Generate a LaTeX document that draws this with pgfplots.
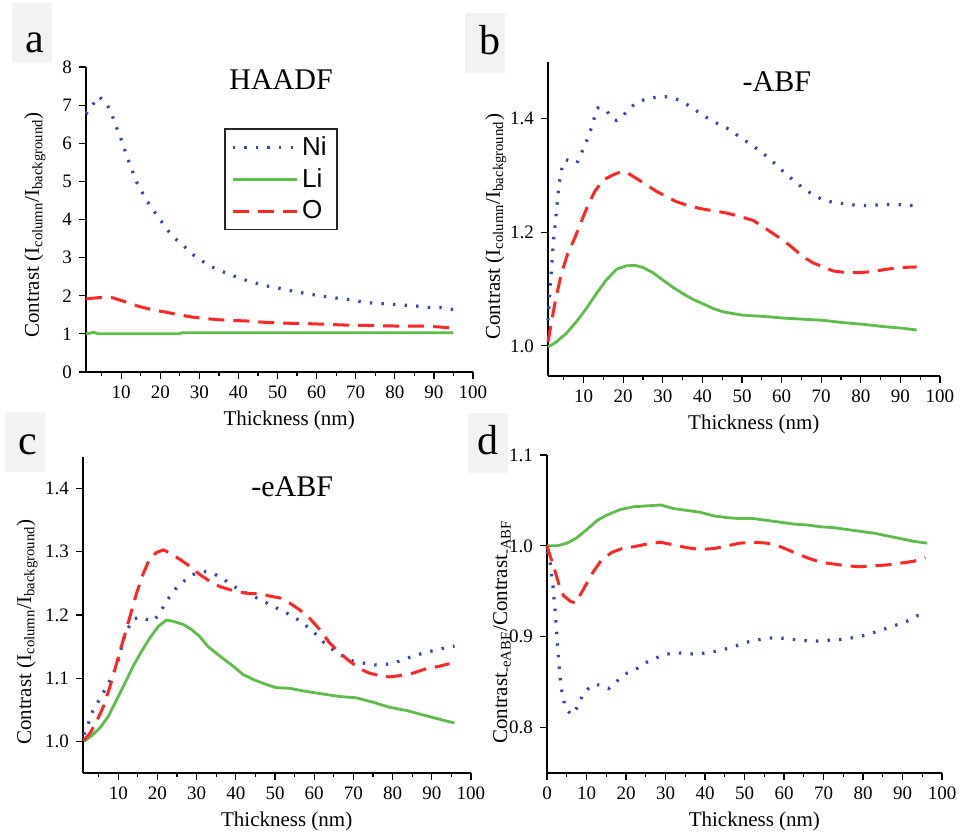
\documentclass[border=0pt]{standalone}
\usepackage{pgfplots}
\pgfplotsset{compat=1.18}
\usepackage{fontspec}
\setmainfont{Liberation Serif}
\newfontfamily\legendfont{Liberation Sans}

\definecolor{niblue}{HTML}{2F4AAA}
\definecolor{ligreen}{HTML}{5CBD48}
\definecolor{ored}{HTML}{FF2626}
\definecolor{boxgray}{HTML}{F2F2F2}

\tikzset{ttl/.style={font=\fontsize{15}{17}\selectfont, anchor=center}}

\pgfplotsset{
  panel/.style={
    scale only axis,
    axis lines=left,
    axis line style={-, line width=0.7pt},
    enlargelimits=false,
    tick align=outside,
    major tick length=3.5pt,
    minor tick length=2pt,
    tick style={black, line width=0.6pt},
    xtick={10,20,...,100},
    minor xtick={5,15,...,95},
    ticklabel style={font=\fontsize{9.5}{10}\selectfont},
    /pgf/number format/assume math mode=true,
    xlabel={Thickness (nm)},
    xlabel style={font=\fontsize{10.5}{12}\selectfont, anchor=center, at={(axis description cs:0.525,0)}, yshift=-24pt},
    ylabel style={font=\fontsize{10.5}{12}\selectfont, anchor=center},
    clip=false,
  },
  ni/.style={niblue, line width=1.6pt, dash pattern=on 1.2pt off 4.6pt},
  li/.style={ligreen, line width=1.4pt},
  ox/.style={ored, line width=1.5pt, dash pattern=on 8pt off 4.5pt},
  dec/.style={yticklabel style={/pgf/number format/.cd, fixed, fixed zerofill, precision=1}},
}

\begin{document}
\begin{tikzpicture}
\useasboundingbox (0,0) rectangle (481.5pt,416.5pt);

% panel letters
\foreach \cx/\cy/\bx/\by/\lt in {16/400/17.5/390/a, 242.5/395/245/389/b, 12.5/195.5/14/189/c, 244/195/244/189/d}{
  \fill[boxgray] (\cx pt-10pt,\cy pt-15pt) rectangle (\cx pt+10pt,\cy pt+15pt);
  \node[anchor=base, inner sep=0pt, font=\fontsize{21}{22}\selectfont] at (\bx pt,\by pt) {\lt};
}

% (a) HAADF
\begin{axis}[panel, at={(43pt,230.5pt)}, anchor=south west,
  width=193.5pt, height=152.5pt,
  xmin=1, xmax=100, ymin=0, ymax=8, ytick={0,1,...,8},
  ylabel={Contrast (I\textsubscript{column}/I\textsubscript{background})},
  ylabel style={at={(axis description cs:-0.132,0.482)}},
  legend style={at={(axis description cs:0.357,0.80)}, anchor=north west,
    draw=black!85, line width=0.8pt, font=\legendfont\fontsize{13}{14}\selectfont,
    inner xsep=3pt, inner ysep=2pt, row sep=1pt},
  legend cell align=left,
  legend image code/.code={\draw[#1] (0pt,0pt) -- (32pt,0pt);},
]
\addplot[ni] coordinates {(1.0,6.77) (4.3,7.23) (6.4,7.02) (7.7,6.73) (8.7,6.44) (9.8,6.16) (10.7,5.90) (11.7,5.59) (12.7,5.33) (13.7,5.03) (15.1,4.76) (16.5,4.50) (18.1,4.26) (19.8,4.02) (21.8,3.73) (23.5,3.52) (25.7,3.34) (27.8,3.12) (30.4,2.93) (32.9,2.77) (35.5,2.65) (38.5,2.53) (41.5,2.42) (44.5,2.33) (47.0,2.26) (50.0,2.21) (53.0,2.14) (56.0,2.08) (59.0,2.03) (62.0,1.98) (65.0,1.94) (68.0,1.90) (71.0,1.85) (74.0,1.81) (77.0,1.79) (80.0,1.77) (83.0,1.75) (85.5,1.73) (88.5,1.69) (91.5,1.69) (94.9,1.64)};
\addlegendentry{Ni}
\addplot[li] coordinates {(1.0,1.0) (2.0,1.02) (3.0,1.04) (4.0,1.005) (25.0,1.005) (25.5,1.03) (95.0,1.03)};
\addlegendentry{Li}
\addplot[ox] coordinates {(1.0,1.92) (4.3,1.95) (7.7,1.95) (11.1,1.84) (14.5,1.72) (18.0,1.63) (21.4,1.57) (24.8,1.50) (28.2,1.44) (31.6,1.40) (35.1,1.37) (38.5,1.35) (41.9,1.34) (47.0,1.30) (52.2,1.28) (57.3,1.27) (62.4,1.25) (67.6,1.23) (72.7,1.22) (77.8,1.21) (83.0,1.20) (88.1,1.20) (91.5,1.18) (94.9,1.15)};
\addlegendentry{O}
\node[ttl] at (axis description cs:0.504,0.957) {HAADF};
\end{axis}

% (b) -ABF
\begin{axis}[panel, dec, at={(274pt,228.5pt)}, anchor=south west,
  width=196pt, height=157pt,
  xmin=1, xmax=100, ymin=0.947, ymax=1.5, ytick={1.0,1.2,1.4},
  ylabel={Contrast (I\textsubscript{column}/I\textsubscript{background})},
  ylabel style={at={(axis description cs:-0.133,0.475)}},
]
\addplot[ni] coordinates {(1.0,1.045) (1.4,1.086) (1.8,1.128) (2.4,1.186) (3.1,1.234) (3.7,1.281) (4.4,1.310) (5.5,1.328) (6.9,1.325) (8.3,1.322) (9.4,1.339) (10.7,1.360) (11.9,1.383) (12.8,1.404) (13.6,1.419) (15.7,1.416) (17.0,1.401) (18.3,1.397) (19.5,1.401) (21.2,1.416) (23.3,1.428) (25.8,1.435) (28.4,1.438) (30.5,1.439) (33.0,1.436) (35.5,1.428) (38.1,1.416) (40.6,1.404) (43.1,1.394) (46.1,1.384) (48.6,1.372) (51.1,1.360) (53.6,1.348) (56.2,1.334) (58.3,1.321) (60.4,1.307) (62.9,1.292) (65.4,1.278) (68.0,1.266) (70.5,1.257) (73.4,1.252) (76.4,1.250) (79.3,1.247) (82.3,1.247) (85.2,1.249) (88.2,1.249) (91.5,1.248) (94.5,1.246)};
\addplot[li] coordinates {(1.0,0.998) (3.1,1.007) (5.6,1.022) (8.1,1.042) (10.7,1.066) (13.2,1.092) (15.7,1.116) (18.3,1.135) (20.8,1.141) (22.9,1.142) (25.0,1.138) (27.5,1.129) (30.0,1.116) (32.6,1.103) (35.1,1.092) (37.6,1.082) (40.2,1.074) (42.7,1.066) (45.2,1.060) (47.7,1.057) (50.3,1.054) (55.3,1.052) (60.4,1.049) (65.4,1.047) (70.5,1.045) (75.5,1.041) (80.6,1.038) (85.7,1.034) (90.7,1.031) (94.1,1.028)};
\addplot[ox] coordinates {(1.0,1.007) (1.8,1.039) (2.9,1.081) (4.4,1.128) (6.0,1.163) (7.7,1.189) (9.4,1.219) (11.1,1.248) (12.8,1.272) (14.9,1.292) (17.4,1.301) (19.5,1.307) (21.2,1.304) (23.3,1.295) (25.8,1.284) (28.4,1.272) (30.9,1.263) (33.4,1.254) (36.0,1.248) (39.3,1.242) (42.7,1.238) (46.1,1.234) (49.4,1.228) (52.8,1.221) (55.3,1.210) (57.8,1.198) (60.4,1.186) (62.9,1.172) (65.4,1.157) (68.0,1.146) (70.5,1.139) (73.0,1.132) (76.4,1.129) (79.8,1.129) (83.1,1.131) (86.5,1.135) (89.9,1.138) (94.1,1.139)};
\node[ttl] at (axis description cs:0.584,0.936) {-ABF};
\end{axis}

% (c) -eABF
\begin{axis}[panel, dec, at={(41.5pt,30pt)}, anchor=south west,
  width=194pt, height=158pt,
  xmin=1, xmax=100, ymin=0.95, ymax=1.45, ytick={1.0,1.1,1.2,1.3,1.4},
  ylabel={Contrast (I\textsubscript{column}/I\textsubscript{background})},
  ylabel style={at={(axis description cs:-0.144,0.446)}},
]
\addplot[ni] coordinates {(1.25,1.011) (2.4,1.029) (3.6,1.050) (4.9,1.063) (6.2,1.077) (7.5,1.092) (8.7,1.106) (10.0,1.129) (11.3,1.161) (12.5,1.179) (13.8,1.193) (15.5,1.197) (17.2,1.193) (18.9,1.190) (20.6,1.203) (22.3,1.222) (24.4,1.240) (26.6,1.253) (29.1,1.264) (31.7,1.269) (34.2,1.266) (36.8,1.257) (39.3,1.246) (41.8,1.237) (44.4,1.230) (46.9,1.222) (49.5,1.214) (52.0,1.206) (54.6,1.198) (57.1,1.187) (59.7,1.174) (62.2,1.158) (64.8,1.145) (67.3,1.135) (69.9,1.127) (72.4,1.124) (75.4,1.121) (78.4,1.122) (81.8,1.127) (85.2,1.135) (88.6,1.141) (92.0,1.146) (95.8,1.151)};
\addplot[li] coordinates {(1.25,1.000) (3.2,1.009) (5.3,1.021) (7.5,1.040) (9.6,1.066) (11.7,1.092) (13.8,1.119) (15.9,1.142) (18.1,1.164) (20.2,1.182) (22.3,1.192) (24.0,1.190) (26.6,1.185) (28.7,1.177) (30.8,1.166) (32.9,1.150) (35.9,1.135) (39.3,1.119) (41.8,1.106) (44.4,1.098) (47.8,1.090) (50.3,1.085) (53.7,1.084) (58.0,1.079) (62.2,1.075) (66.5,1.071) (70.7,1.069) (75.0,1.062) (79.2,1.054) (83.5,1.049) (87.7,1.042) (92.0,1.035) (95.8,1.029)};
\addplot[ox] coordinates {(1.25,1.002) (2.8,1.013) (4.5,1.032) (6.2,1.055) (7.9,1.087) (9.6,1.124) (11.3,1.161) (13.0,1.198) (14.7,1.235) (16.4,1.266) (18.1,1.290) (19.8,1.299) (21.5,1.303) (23.2,1.298) (25.7,1.288) (28.3,1.277) (30.8,1.264) (33.4,1.253) (35.9,1.245) (38.5,1.240) (41.0,1.236) (43.5,1.234) (46.1,1.234) (48.6,1.230) (51.2,1.227) (53.7,1.219) (56.3,1.208) (58.8,1.195) (61.4,1.177) (63.9,1.156) (66.5,1.140) (69.0,1.127) (71.6,1.115) (74.1,1.108) (76.7,1.104) (79.2,1.102) (81.8,1.104) (85.2,1.108) (88.6,1.115) (92.0,1.119) (94.5,1.123)};
\node[ttl] at (axis description cs:0.539,0.905) {-eABF};
\end{axis}

% (d) ratio
\begin{axis}[panel, dec, at={(273.5pt,30pt)}, anchor=south west,
  width=197.5pt, height=159pt,
  xmin=0, xmax=100, ymin=0.75, ymax=1.1, ytick={0.8,0.9,1.0,1.1},
  xtick={0,10,...,100},
  ylabel={Contrast\textsubscript{-eABF}/Contrast\textsubscript{-ABF}},
  ylabel style={at={(axis description cs:-0.114,0.443)}},
]
\addplot[ni] coordinates {(0,0.994) (0.8,0.982) (1.5,0.956) (2.1,0.926) (2.7,0.889) (3.2,0.860) (3.8,0.838) (4.6,0.823) (6.1,0.814) (7.6,0.822) (9.3,0.838) (11.4,0.847) (13.5,0.847) (15.6,0.843) (17.7,0.851) (20.3,0.860) (22.8,0.865) (25.3,0.872) (27.8,0.877) (30.4,0.881) (33.8,0.882) (37.1,0.881) (40.5,0.882) (43.9,0.885) (47.3,0.889) (50.6,0.894) (54.0,0.897) (57.4,0.899) (60.8,0.898) (64.1,0.896) (67.5,0.895) (70.9,0.896) (74.3,0.897) (77.6,0.899) (81.0,0.902) (84.4,0.907) (87.8,0.912) (91.1,0.917) (93.7,0.923) (96.2,0.924)};
\addplot[li] coordinates {(0,1.000) (2.5,1.000) (5.1,1.003) (7.6,1.009) (10.1,1.018) (12.7,1.028) (15.2,1.034) (18.6,1.040) (21.9,1.043) (25.3,1.044) (28.7,1.045) (32.1,1.041) (35.4,1.039) (38.8,1.037) (42.2,1.033) (45.6,1.031) (48.9,1.030) (52.3,1.030) (55.7,1.028) (59.1,1.026) (62.4,1.024) (65.8,1.023) (69.2,1.021) (72.6,1.020) (75.9,1.018) (79.3,1.016) (82.7,1.014) (86.1,1.011) (89.5,1.008) (92.8,1.005) (96.2,1.003)};
\addplot[ox] coordinates {(0,1.000) (0.8,0.989) (1.9,0.974) (3.0,0.958) (4.2,0.945) (5.9,0.939) (7.2,0.937) (8.4,0.946) (10.1,0.959) (11.8,0.972) (13.9,0.985) (16.5,0.993) (19.0,0.997) (21.9,0.999) (25.3,1.002) (28.7,1.004) (32.1,1.001) (35.4,0.998) (38.8,0.996) (42.2,0.997) (45.6,1.000) (48.9,1.003) (52.3,1.004) (55.7,1.003) (59.1,0.999) (62.4,0.993) (65.8,0.987) (69.2,0.982) (72.6,0.980) (75.9,0.978) (79.3,0.977) (82.7,0.978) (86.1,0.979) (89.5,0.981) (92.8,0.983) (95.8,0.987)};
\end{axis}
\end{tikzpicture}
\end{document}
